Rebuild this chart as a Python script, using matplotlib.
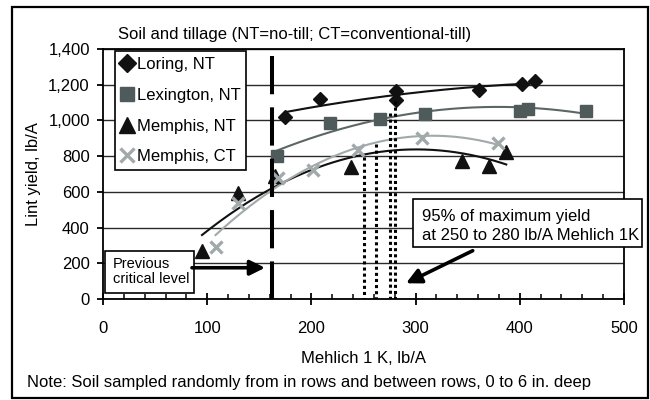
import numpy as np
import matplotlib
matplotlib.use('Agg')
import matplotlib.pyplot as plt
from matplotlib.patches import Rectangle

plt.rcParams['font.family'] = ['Liberation Sans', 'DejaVu Sans']

# ---------------- data ----------------
title = "Soil and tillage (NT=no-till; CT=conventional-till)"
x_label = "Mehlich 1 K, lb/A"
y_label = "Lint yield, lb/A"
note = "Note: Soil sampled randomly from in rows and between rows, 0 to 6 in. deep"

series_names = ["Loring, NT", "Lexington, NT", "Memphis, NT", "Memphis, CT"]

loring_k = [175, 208, 281, 281, 361, 402, 415]
loring_y = [1020, 1120, 1165, 1115, 1170, 1205, 1220]

lex_k = [167, 218, 266, 309, 400, 408, 464]
lex_y = [800, 985, 1010, 1035, 1055, 1062, 1055]

mnt_k = [95, 130, 165, 238, 345, 370, 387]
mnt_y = [270, 595, 690, 740, 775, 745, 825]

mct_k = [108, 130, 168, 202, 245, 306, 379]
mct_y = [293, 535, 675, 720, 835, 900, 875]

critical_k = 162
critical_top = 1360
opt_k = [250, 262, 275, 280]
opt_top = [795, 870, 1040, 1110]

x_ticks = [0, 100, 200, 300, 400, 500]
y_ticks = [0, 200, 400, 600, 800, 1000, 1200, 1400]
y_tick_labels = ["0", "200", "400", "600", "800", "1,000", "1,200", "1,400"]

prev_label = ["Previous", "critical level"]
opt_label = ["95% of maximum yield", "at 250 to 280 lb/A Mehlich 1K"]

# ---------------- figure ----------------
W, H = 650, 400
fig = plt.figure(figsize=(6.5, 4), dpi=100)
def fx(px): return px / W
def fy(py): return 1 - py / H

ax = fig.add_axes([fx(103), fy(299), (624 - 103) / W, (299 - 49) / H])
ax.set_xlim(0, 500)
ax.set_ylim(0, 1400)

for s in ax.spines.values():
    s.set_linewidth(1.3)
    s.set_color('black')

ax.yaxis.grid(True, color='#2a2a2a', lw=1.0)
ax.set_axisbelow(True)

ax.set_xticks(x_ticks)
ax.set_xticks(np.arange(0, 501, 20), minor=True)
ax.set_yticks(y_ticks)
ax.set_yticklabels(y_tick_labels)
ax.tick_params(axis='x', which='major', direction='inout', length=9, width=1.3,
               pad=11, labelsize=12)
ax.tick_params(axis='x', which='minor', direction='in', length=3.6, width=1.1)
ax.tick_params(axis='y', which='major', direction='out', length=4.5, width=1.3,
               pad=5, labelsize=12)

col_lor = '#111111'
col_lex = '#4f5a5a'
col_mnt = '#111111'
col_mct = '#a2a9ab'
curve_lex = '#5c6666'

def trend(k, y, color, lw=1.5):
    c = np.polyfit(k, y, 2)
    xx = np.linspace(min(k), max(k), 200)
    ax.plot(xx, np.polyval(c, xx), color=color, lw=lw, zorder=3)

trend(loring_k, loring_y, col_lor)
trend(lex_k, lex_y, curve_lex)
trend(mnt_k, mnt_y, col_mnt)
trend(mct_k, mct_y, col_mct)

h1, = ax.plot(loring_k, loring_y, ls='none', marker='D', ms=7.5, color=col_lor,
              mec=col_lor, zorder=4, label=series_names[0])
h2, = ax.plot(lex_k, lex_y, ls='none', marker='s', ms=8.5, color=col_lex,
              mec=col_lex, zorder=4, label=series_names[1])
h3, = ax.plot(mnt_k, mnt_y, ls='none', marker='^', ms=9.5, color=col_mnt,
              mec=col_mnt, zorder=4, label=series_names[2])
h4, = ax.plot(mct_k, mct_y, ls='none', marker='x', ms=8, mew=2.4, color=col_mct,
              zorder=4, label=series_names[3])

# critical level dashed line
ax.plot([critical_k, critical_k], [critical_top, 0], color='black', lw=2.9,
        ls=(0, (9.5, 3.25)), dash_capstyle='butt', zorder=5)

# dotted lines for 95% range
for k, t in zip(opt_k, opt_top):
    ax.plot([k, k], [t, 0], color='black', lw=2.2, ls=(0, (1, 1)),
            dash_capstyle='butt', zorder=5)

# legend
leg = ax.legend(handles=[h1, h2, h3, h4], loc='upper left',
                bbox_to_anchor=(fx(115), fy(51)), bbox_transform=fig.transFigure,
                borderaxespad=0, frameon=True, fancybox=False, edgecolor='black',
                framealpha=1, facecolor='white', fontsize=12, handlelength=0.7,
                handletextpad=0.25, labelspacing=0.95, borderpad=0.35,
                markerscale=1.25, numpoints=1)
leg.get_frame().set_linewidth(1.2)
leg.set_zorder(10)

# previous critical level box
ax.add_patch(Rectangle((1.9, 35), 87.3 - 1.9, 270 - 35, facecolor='white',
                       edgecolor='black', lw=1.2, zorder=8, clip_on=False))
ax.text(9.3, 172, prev_label[0], fontsize=10.5, va='baseline', ha='left', zorder=9)
ax.text(9.3, 91, prev_label[1], fontsize=10.5, va='baseline', ha='left', zorder=9)
ax.annotate('', xy=(155.5, 175), xytext=(85.4, 175), zorder=9,
            arrowprops=dict(arrowstyle='-|>,head_length=0.6,head_width=0.3',
                            lw=2.6, color='black', mutation_scale=15,
                            shrinkA=0, shrinkB=0))

# 95% box
ax.add_patch(Rectangle((297.5, 289.5), 517.3 - 297.5, 560 - 289.5, facecolor='white',
                       edgecolor='black', lw=1.2, zorder=8, clip_on=False))
ax.text(306, 437, opt_label[0], fontsize=12, va='baseline', ha='left', zorder=9)
ax.text(306, 330, opt_label[1], fontsize=12, va='baseline', ha='left', zorder=9)
ax.annotate('', xy=(290.8, 88), xytext=(354.8, 270.5), zorder=9,
            arrowprops=dict(arrowstyle='-|>,head_length=0.6,head_width=0.3',
                            lw=2.6, color='black', mutation_scale=15,
                            shrinkA=0, shrinkB=0))

# texts
fig.text(fx(118), fy(39), title, fontsize=12, ha='left', va='baseline')
fig.text(fx(363.5), fy(363), x_label, fontsize=12, ha='center', va='baseline')
fig.text(fx(38), fy(174), y_label, fontsize=12, ha='center', va='baseline',
         rotation=90, rotation_mode='anchor')
fig.text(fx(26.7), fy(386.7), note, fontsize=12, ha='left', va='baseline')

# outer frame
fig.add_artist(Rectangle((fx(12), fy(398)), (648 - 12) / W, (398 - 7) / H,
                         transform=fig.transFigure, fill=False, lw=1.6,
                         edgecolor='black'))

fig.savefig('out.png', dpi=100)
